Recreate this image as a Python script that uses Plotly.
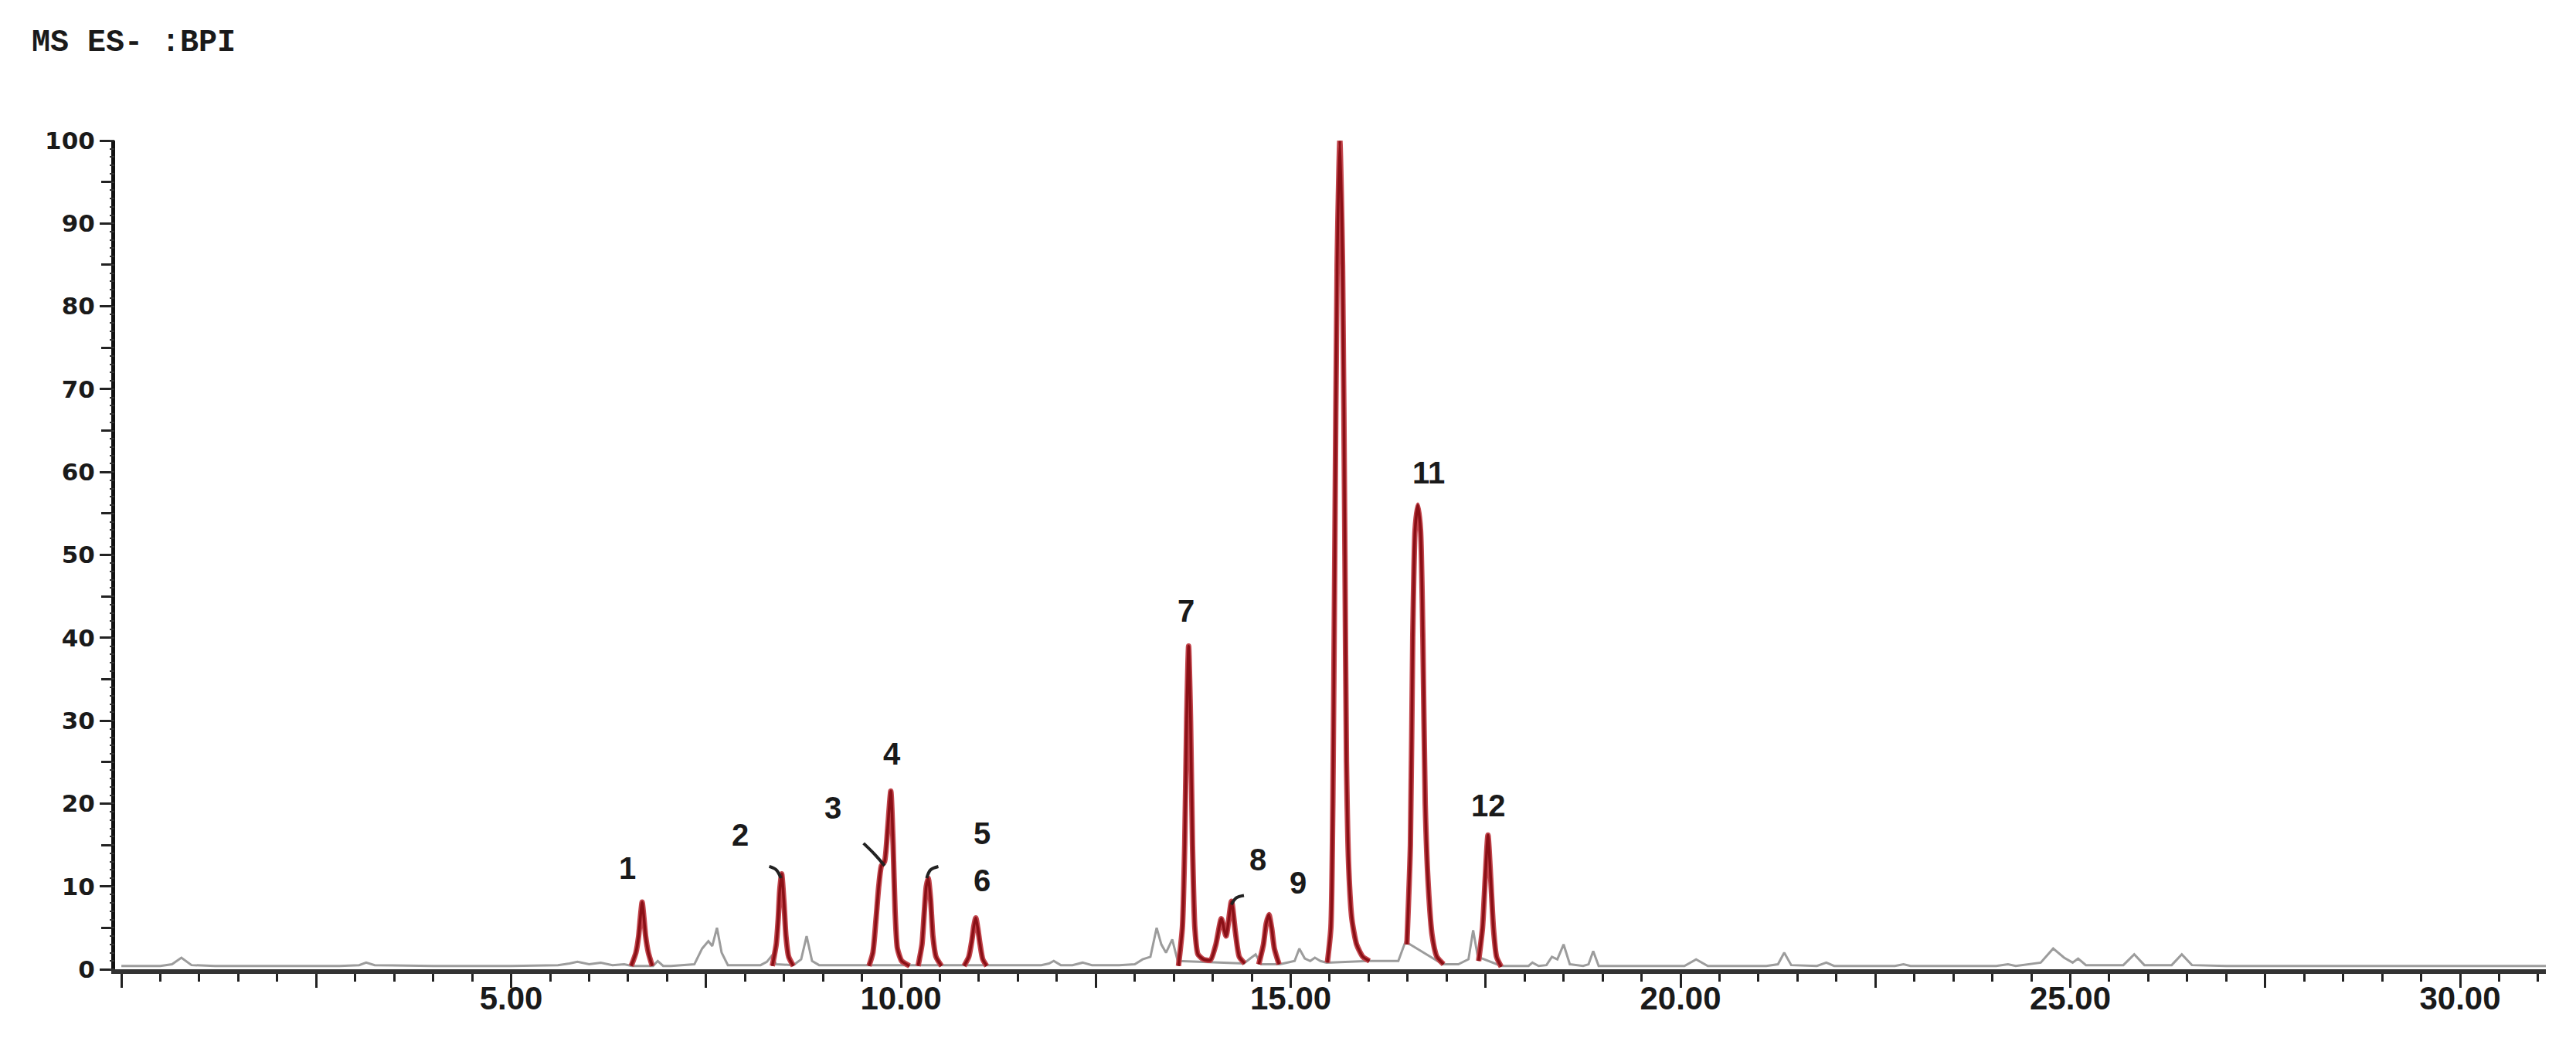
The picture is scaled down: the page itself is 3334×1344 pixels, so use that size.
import plotly.graph_objects as go

# ---------------- data ----------------
# grey base-peak-intensity trace (time in min, relative intensity %)
grey_t = [0.00, 0.50, 0.65, 0.77, 0.90, 1.20, 2.00, 2.80, 3.05, 3.14, 3.25, 4.00, 5.00, 5.60,
          5.75, 5.85, 6.00, 6.15, 6.30, 6.45, 6.55, 6.82, 6.88, 6.95, 7.05, 7.35, 7.45, 7.53,
          7.58, 7.64, 7.70, 7.78, 8.20, 8.28, 8.34, 8.40, 8.62, 8.72, 8.79, 8.86, 8.95, 9.40,
          10.10, 10.20, 10.60, 11.15, 11.80, 11.90, 11.96, 12.05, 12.20, 12.33, 12.45, 12.80,
          13.00, 13.10, 13.20, 13.28, 13.34, 13.40, 13.48, 13.55, 14.40, 14.48, 14.55, 14.62,
          14.86, 14.95, 15.05, 15.11, 15.18, 15.25, 15.31, 15.38, 15.46, 16.00, 16.38, 16.47,
          16.53, 16.95, 17.15, 17.28, 17.34, 17.40, 17.70, 17.95, 18.05, 18.10, 18.18, 18.28,
          18.35, 18.42, 18.50, 18.58, 18.75, 18.82, 18.88, 18.95, 19.50, 20.05, 20.20, 20.35,
          21.10, 21.25, 21.33, 21.42, 21.75, 21.87, 21.97, 22.75, 22.86, 22.95, 24.05, 24.20,
          24.30, 24.62, 24.78, 24.92, 25.03, 25.10, 25.20, 25.68, 25.82, 25.95, 26.30, 26.43,
          26.56, 27.00, 31.10]
grey_v = [0.4, 0.4, 0.6, 1.4, 0.5, 0.4, 0.4, 0.4, 0.5, 0.8, 0.5, 0.4, 0.4, 0.5,
          0.7, 0.9, 0.6, 0.8, 0.5, 0.6, 0.4, 0.4, 1.0, 0.4, 0.4, 0.6, 2.5, 3.4,
          2.8, 5.0, 2.0, 0.5, 0.5, 0.9, 1.6, 0.6, 0.5, 1.2, 4.0, 1.0, 0.5, 0.5,
          0.5, 0.5, 0.5, 0.5, 0.5, 0.7, 1.0, 0.5, 0.5, 0.8, 0.5, 0.5,
          0.6, 1.2, 1.5, 5.0, 3.0, 2.0, 3.6, 1.0, 0.7, 1.3, 1.8, 0.6,
          0.6, 0.8, 1.0, 2.5, 1.3, 1.0, 1.4, 1.0, 0.8, 1.0, 1.0, 3.3,
          3.0, 0.6, 0.6, 1.2, 4.7, 1.5, 0.4, 0.4, 0.4, 0.8, 0.4, 0.5,
          1.5, 1.2, 3.0, 0.6, 0.4, 0.6, 2.2, 0.4, 0.4, 0.4, 1.2, 0.4,
          0.4, 0.6, 2.0, 0.5, 0.4, 0.8, 0.4, 0.4, 0.6, 0.4, 0.4, 0.6,
          0.4, 0.8, 2.5, 1.4, 0.8, 1.3, 0.5, 0.5, 1.8, 0.5, 0.5, 1.8,
          0.5, 0.4, 0.4]

# red (identified) peaks, one list per peak group
red_t = [
    [6.54, 6.60, 6.635, 6.66, 6.68, 6.70, 6.725, 6.76, 6.81],
    [8.35, 8.40, 8.425, 8.445, 8.47, 8.50, 8.525, 8.56, 8.62],
    [9.59, 9.64, 9.68, 9.715, 9.75, 9.79, 9.83, 9.87, 9.90, 9.925, 9.955, 10.01, 10.11],
    [10.22, 10.27, 10.30, 10.325, 10.35, 10.38, 10.41, 10.45, 10.52],
    [10.81, 10.87, 10.91, 10.935, 10.96, 10.985, 11.015, 11.05, 11.10],
    [13.56, 13.61, 13.64, 13.665, 13.69, 13.715, 13.74, 13.77, 13.81, 13.88, 13.97,
     14.04, 14.11, 14.17, 14.24, 14.29, 14.34, 14.41],
    [14.59, 14.65, 14.685, 14.72, 14.755, 14.79, 14.85],
    [15.47, 15.515, 15.54, 15.565, 15.595, 15.63, 15.665, 15.695, 15.715, 15.745, 15.785,
     15.845, 15.925, 16.01],
    [16.49, 16.535, 16.565, 16.595, 16.63, 16.665, 16.695, 16.725, 16.765, 16.815, 16.875, 16.96],
    [17.41, 17.46, 17.495, 17.53, 17.565, 17.60, 17.64, 17.70],
]
red_v = [
    [0.4, 2.0, 4.0, 6.5, 8.1, 6.5, 4.0, 2.0, 0.4],
    [0.4, 3.0, 6.0, 9.5, 11.5, 8.0, 4.0, 1.5, 0.4],
    [0.4, 2.0, 6.0, 10.0, 12.5, 13.0, 17.0, 21.5, 15.0, 7.0, 2.5, 1.0, 0.4],
    [0.4, 3.0, 7.0, 10.0, 11.0, 8.5, 4.0, 1.5, 0.4],
    [0.4, 1.5, 3.5, 5.2, 6.2, 5.0, 3.0, 1.2, 0.4],
    [0.4, 5.0, 15.0, 30.0, 39.0, 30.0, 15.0, 5.0, 1.8, 1.2, 1.1,
     3.0, 6.1, 4.0, 8.2, 4.5, 1.5, 0.7],
    [0.6, 3.0, 5.5, 6.6, 5.0, 2.5, 0.6],
    [0.8, 5.0, 20.0, 50.0, 85.0, 100.0, 85.0, 50.0, 25.0, 12.0, 6.0,
     3.0, 1.5, 1.0],
    [3.0, 15.0, 40.0, 53.0, 56.0, 53.0, 40.0, 20.0, 10.0, 4.0, 1.5, 0.6],
    [1.0, 5.0, 11.0, 16.2, 11.0, 5.0, 1.5, 0.3],
]

# peak numbers and label positions (time, intensity)
peak_labels = ["1", "2", "3", "4", "5", "6", "7", "8", "9", "10", "11", "12"]
label_t = [6.49, 7.94, 9.13, 9.89, 11.04, 11.04, 13.66, 14.58, 15.09, 15.76, 16.77, 17.54]
label_v = [12.2, 16.2, 19.5, 26.0, 16.4, 10.7, 43.2, 13.2, 10.4, 104.8, 59.9, 19.8]

# short black leader strokes pointing to peaks 2, 3, 5 and 8
leader_t = [[8.31, 8.40, 8.46], [9.52, 9.66, 9.79], [10.48, 10.38, 10.33], [14.40, 14.30, 14.24]]
leader_v = [[12.4, 12.0, 11.0], [15.2, 13.9, 12.5], [12.4, 12.0, 11.0], [8.9, 8.6, 7.8]]

x_tickvals = [0, 2.5, 5, 7.5, 10, 12.5, 15, 17.5, 20, 22.5, 25, 27.5, 30]
x_ticktext = ["", "", "5.00", "", "10.00", "", "15.00", "", "20.00", "", "25.00", "", "30.00"]
y_tickvals = [0, 10, 20, 30, 40, 50, 60, 70, 80, 90, 100]

LABEL_FONT = "Liberation Sans, Arial, sans-serif"

# ---------------- figure ----------------
fig = go.Figure()

fig.add_trace(go.Scatter(x=grey_t, y=grey_v, mode="lines",
                         line=dict(color="#9c9c9c", width=3), hoverinfo="skip"))

rx, ry = [], []
for ts, vs in zip(red_t, red_v):
    rx += ts + [None]
    ry += vs + [None]
# soft outer halo + dark core to mimic the shaded red stroke
fig.add_trace(go.Scatter(x=rx, y=ry, mode="lines", connectgaps=False,
                         line=dict(color="#c2454c", width=7, shape="spline", smoothing=0.6),
                         hoverinfo="skip"))
fig.add_trace(go.Scatter(x=rx, y=ry, mode="lines", connectgaps=False,
                         line=dict(color="#8a1016", width=3.5, shape="spline", smoothing=0.6),
                         hoverinfo="skip"))

lx, ly = [], []
for ts, vs in zip(leader_t, leader_v):
    lx += ts + [None]
    ly += vs + [None]
fig.add_trace(go.Scatter(x=lx, y=ly, mode="lines", connectgaps=False,
                         line=dict(color="#222222", width=4, shape="spline"),
                         hoverinfo="skip"))

# dummy trace for the fine-tick overlay axis
fig.add_trace(go.Scatter(x=[None], y=[None], yaxis="y2", mode="lines", hoverinfo="skip"))

for txt, t, v in zip(peak_labels, label_t, label_v):
    fig.add_annotation(x=t, y=v, text=txt, showarrow=False, xanchor="center", yanchor="middle",
                       font=dict(family=LABEL_FONT, size=40, color="#1a1a1a", weight="bold"))

fig.add_annotation(xref="paper", yref="paper", x=-0.035, y=1.118, xanchor="left", yanchor="middle",
                   text="MS ES- :BPI", showarrow=False,
                   font=dict(family="Liberation Mono, DejaVu Sans Mono, monospace", size=40,
                             color="#1a1a1a", weight="bold"))

fig.update_layout(
    width=3334, height=1344,
    margin=dict(l=141, r=47, t=174, b=97),
    paper_bgcolor="white", plot_bgcolor="white",
    showlegend=False,
    xaxis=dict(range=[-0.08, 31.1], showgrid=False, zeroline=False,
               showline=True, linecolor="#333333", linewidth=6,
               ticks="outside", tickvals=x_tickvals, ticktext=x_ticktext,
               ticklen=18, tickwidth=3, tickcolor="#222222",
               ticklabelstandoff=-22,
               minor=dict(dtick=0.5, ticks="outside", ticklen=10, tickwidth=3, tickcolor="#222222"),
               tickfont=dict(family=LABEL_FONT, size=42, color="#1a1a1a", weight="bold")),
    yaxis=dict(range=[0, 100], showgrid=False, zeroline=False,
               showline=True, linecolor="#111111", linewidth=5,
               ticks="outside", tickvals=y_tickvals, ticklen=15, tickwidth=3, tickcolor="#222222",
               minor=dict(dtick=5, ticks="outside", ticklen=13, tickwidth=3, tickcolor="#222222"),
               tickfont=dict(family="DejaVu Sans, Verdana, sans-serif", size=31,
                             color="#1a1a1a", weight="bold")),
    yaxis2=dict(range=[0, 100], overlaying="y", side="left", showgrid=False, zeroline=False,
                showline=False, showticklabels=False, ticks="outside", dtick=1,
                ticklen=6, tickwidth=2, tickcolor="#333333"),
)

fig.write_html("out.html")
